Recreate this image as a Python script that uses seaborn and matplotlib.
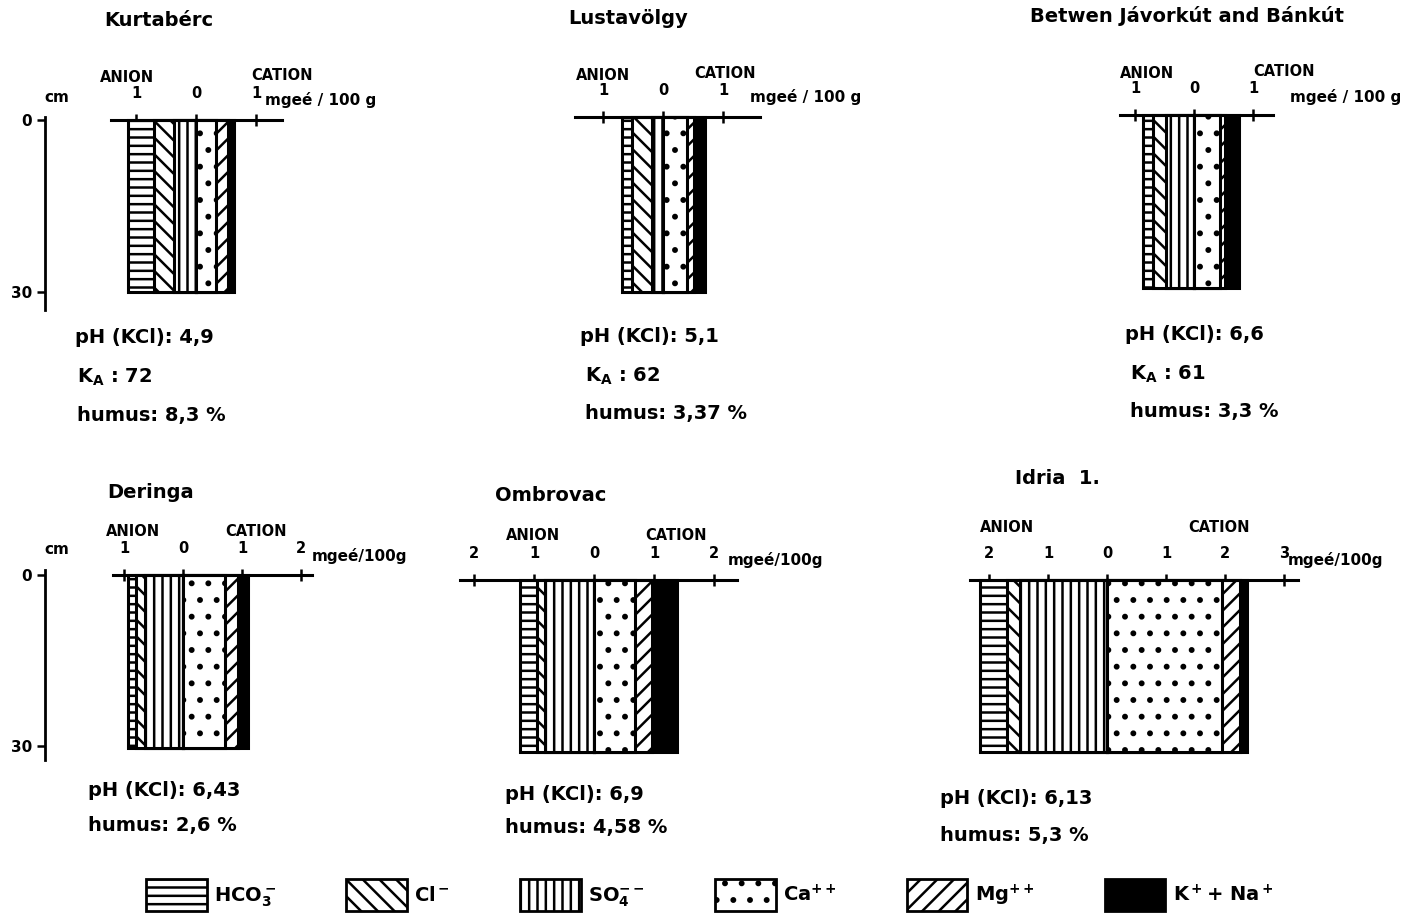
import pandas as pd
import seaborn as sns
import matplotlib.pyplot as plt
from matplotlib.patches import Patch

# soil profiles (0-30 cm), ion content in mgeé/100g
profiles = ["Kurtabérc", "Lustavölgy", "Betwen Jávorkút and Bánkút",
            "Deringa", "Ombrovac", "Idria  1."]
hco3 = [0.44, 0.17, 0.17, 0.14, 0.28, 0.46]
cl = [0.34, 0.33, 0.22, 0.15, 0.13, 0.22]
so4 = [0.36, 0.18, 0.47, 0.64, 0.82, 1.47]
ca = [0.34, 0.40, 0.44, 0.71, 0.68, 1.95]
mg = [0.20, 0.12, 0.08, 0.22, 0.28, 0.30]
kna = [0.10, 0.18, 0.25, 0.17, 0.43, 0.12]

ph = ["4,9", "5,1", "6,6", "6,43", "6,9", "6,13"]
ka = ["72", "62", "61", None, None, None]
humus = ["8,3 %", "3,37 %", "3,3 %", "2,6 %", "4,58 %", "5,3 %"]

anion_ticks = [[1], [1], [1], [1], [2, 1], [2, 1]]
cation_ticks = [[1], [1], [1], [1, 2], [1, 2], [1, 2, 3]]
depth_ticks = [0, 30]

ions = ["HCO3", "Cl", "SO4", "KNa", "Mg", "Ca"]
hatches = {"HCO3": "--", "Cl": "\\\\", "SO4": "||", "Ca": ".", "Mg": "//", "KNa": ""}
colors = {k: "white" for k in ions}
colors["KNa"] = "black"
legend_order = ["HCO3", "Cl", "SO4", "Ca", "Mg", "KNa"]
legend_labels = [r"$\mathbf{HCO_3^-}$", r"$\mathbf{Cl^-}$", r"$\mathbf{SO_4^{--}}$",
                 r"$\mathbf{Ca^{++}}$", r"$\mathbf{Mg^{++}}$", r"$\mathbf{K^+\!+\,Na^+}$"]

# panel layout in pixels: axis line left/right, zero, px per unit, bar top/bottom
layout = [
    (111, 282, 196, 60, 120, 292),
    (575, 760, 663, 60, 117, 292),
    (1120, 1273, 1194, 59, 115, 288),
    (113, 312, 183, 59, 575, 748),
    (460, 737, 594, 60, 580, 752),
    (970, 1298, 1107, 59, 580, 752),
]
title_pos = [(104, 20), (568, 18), (1030, 16), (107, 492), (495, 495), (1015, 478)]
anion_pos = [(127, 77), (603, 75), (1147, 73), (133, 532), (533, 535), (1007, 528)]
cation_pos = [(282, 76), (725, 74), (1284, 72), (256, 532), (676, 535), (1219, 528)]
unit_pos = [(265, 100, "mgeé / 100 g"), (750, 97, "mgeé / 100 g"), (1290, 97, "mgeé / 100 g"),
            (312, 556, "mgeé/100g"), (728, 560, "mgeé/100g"), (1288, 560, "mgeé/100g")]
info_pos = [[(75, 338), (77, 377), (77, 416)],
            [(580, 336), (585, 376), (585, 414)],
            [(1125, 335), (1130, 374), (1130, 412)],
            [(88, 790), (88, 826)],
            [(505, 795), (505, 828)],
            [(940, 798), (940, 835)]]

W, H = 1401, 915

sns.set_theme(style="white")
plt.rcParams['font.family'] = ['DejaVu Sans']
plt.rcParams['text.color'] = 'black'
plt.rcParams['hatch.linewidth'] = 1.8
plt.rcParams['hatch.color'] = 'black'

fig = plt.figure(figsize=(W / 100, H / 100), dpi=100)
fig.patch.set_facecolor("white")


def px_ax(l, t, r, b):
    return fig.add_axes([l / W, 1 - b / H, (r - l) / W, (b - t) / H])


def ftext(x, y, s, **kw):
    kw.setdefault("fontweight", "bold")
    kw.setdefault("va", "center")
    fig.text(x / W, 1 - y / H, s, **kw)


for i, name in enumerate(profiles):
    left, right, zero, unit, top, bottom = layout[i]
    vals = [-(hco3[i] + cl[i] + so4[i]), -(cl[i] + so4[i]), -so4[i],
            ca[i] + mg[i] + kna[i], ca[i] + mg[i], ca[i]]
    df = pd.DataFrame({"profile": name, "ion": ions, "value": vals})

    ax = px_ax(left, top, right, bottom)
    sns.barplot(data=df, x="value", y="profile", hue="ion", hue_order=ions,
                palette=colors, dodge=False, width=1.0, errorbar=None,
                edgecolor="black", linewidth=2.2, legend=False, orient="h", ax=ax)
    for cont, ion in zip(ax.containers, ions):
        for p in cont:
            p.set_hatch(hatches[ion])
            p.set_clip_on(False)
    ax.set_xlim((left - zero) / unit, (right - zero) / unit)
    ax.set_ylim(0.5, -0.5)
    ax.set_xlabel("")
    ax.set_ylabel("")
    ax.set_yticks([])
    ax.patch.set_alpha(0)
    for s in ["left", "right", "bottom"]:
        ax.spines[s].set_visible(False)
    ax.spines["top"].set_linewidth(2.2)
    ax.spines["top"].set_color("black")
    ax.xaxis.tick_top()
    tks = [-t for t in anion_ticks[i]] + [0] + cation_ticks[i]
    ax.set_xticks(tks)
    ax.set_xticklabels([str(abs(t)) for t in tks], fontweight="bold")
    ax.tick_params(axis="x", direction="inout", length=8, width=1.8, pad=10,
                   labelsize=10.5, colors="black")

    ftext(*title_pos[i], name, fontsize=14)
    ftext(*anion_pos[i], "ANION", fontsize=10.5, ha="center")
    ftext(*cation_pos[i], "CATION", fontsize=10.5, ha="center")
    ux, uy, us = unit_pos[i]
    ftext(ux, uy, us, fontsize=11)

    lines = ["pH (KCl): " + ph[i]]
    if ka[i] is not None:
        lines.append(r"$\mathbf{K_A}$ : " + ka[i])
    lines.append("humus: " + humus[i])
    for (x, y), s in zip(info_pos[i], lines):
        ftext(x, y, s, fontsize=14)

# depth axes for the two rows
for y0, y30, ytop, ybot, cm_y in [(120, 292, 117, 310, 98), (575, 746, 570, 760, 550)]:
    dax = px_ax(45, ytop, 46, ybot)
    scale = 30 / (y30 - y0)
    dax.set_ylim((ybot - y0) * scale, (ytop - y0) * scale)
    dax.set_xticks([])
    dax.set_yticks(depth_ticks)
    dax.set_yticklabels([str(t) for t in depth_ticks], fontweight="bold")
    dax.tick_params(axis="y", direction="out", length=6, width=1.8, labelsize=11,
                    colors="black", left=True)
    for s in ["top", "right", "bottom"]:
        dax.spines[s].set_visible(False)
    dax.spines["left"].set_linewidth(2)
    dax.spines["left"].set_color("black")
    dax.patch.set_alpha(0)
    ftext(57, cm_y, "cm", fontsize=11, ha="center")

handles = [Patch(facecolor=colors[k], edgecolor="black", hatch=hatches[k], linewidth=2)
           for k in legend_order]
fig.legend(handles, legend_labels, loc="center", bbox_to_anchor=(710 / W, 1 - 895 / H),
           ncol=6, frameon=False, fontsize=14, handlelength=3.1, handleheight=2.2,
           handletextpad=0.4, columnspacing=3.6)

fig.savefig("out.png", dpi=100, facecolor="white")
